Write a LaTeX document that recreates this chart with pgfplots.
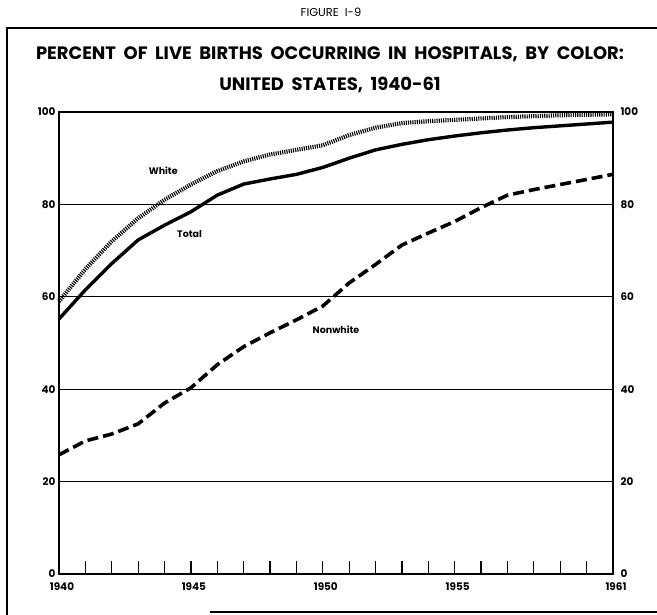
\documentclass[border=0pt]{standalone}
\usepackage{pgfplots}
\pgfplotsset{compat=1.18}
\usepackage{fontspec}
\setmainfont{Poppins}
\begin{document}
\begin{tikzpicture}[x=1bp,y=1bp]
\path[use as bounding box] (0,0) rectangle (657,615);
% outer frame
\draw[line width=1.3bp] (7,0) -- (7,587) -- (657,587);
\draw[line width=1.3bp] (210,3) -- (657,3);
\node[font=\fontsize{11.5}{12}\selectfont] at (331,603) {FIGURE\ \ I-9};
\node[font=\fontsize{18}{31}\selectfont\bfseries, align=center] at (330,545)
  {PERCENT\ \ OF\ \ LIVE\ \ BIRTHS\ \ OCCURRING\ \ IN\ \ HOSPITALS,\ \ BY\ \ COLOR:\\UNITED\ \ STATES,\ \ 1940-61};
\begin{axis}[
  at={(59bp,41bp)}, anchor=south west,
  scale only axis, width=554bp, height=462bp,
  xmin=1940, xmax=1961, ymin=0, ymax=100,
  axis line style={line width=1.3bp},
  xtick={1940,1945,1950,1955,1961},
  minor xtick={1941,...,1960},
  xticklabels={1940,1945,1950,1955,1961},
  x tick label style={/pgf/number format/1000 sep={}},
  xtick pos=bottom, tick align=inside,
  major tick length=13bp, minor tick length=13bp,
  every tick/.style={line width=1.2bp, black},
  ytick={0,20,40,60,80,100},
  ytick style={draw=none},
  ymajorgrids, grid style={line width=1bp, black},
  ticklabel style={font=\fontsize{10.5}{12}\selectfont\bfseries},
  /pgf/number format/assume math mode=true,
  xticklabel style={yshift=-5bp, xshift=3bp},
  clip=false,
]
\addplot[line width=3.4bp, black] coordinates {
(1940,55.2) (1941,61.5) (1942,67.2) (1943,72.3) (1944,75.5) (1945,78.4) (1946,82.0)
(1947,84.4) (1948,85.5) (1949,86.5) (1950,88.0) (1951,90.0) (1952,91.8) (1953,93.0)
(1954,94.0) (1955,94.8) (1956,95.5) (1957,96.1) (1958,96.6) (1959,97.0) (1960,97.4) (1961,97.8)};
\addplot[line width=4.2bp, black, dash pattern=on 1.1bp off 1.1bp] coordinates {
(1940,59.0) (1941,66.0) (1942,72.0) (1943,77.0) (1944,81.0) (1945,84.3) (1946,87.2)
(1947,89.3) (1948,90.8) (1949,91.8) (1950,92.8) (1951,95.0) (1952,96.6) (1953,97.6)
(1954,98.0) (1955,98.3) (1956,98.6) (1957,98.9) (1958,99.1) (1959,99.3) (1960,99.4) (1961,99.5)};
\addplot[line width=3.6bp, black, dash pattern=on 11bp off 5bp] coordinates {
(1940,25.8) (1941,28.8) (1942,30.3) (1943,32.5) (1944,37.0) (1945,40.3) (1946,45.3)
(1947,49.2) (1948,52.2) (1949,55.0) (1950,58.0) (1951,63.0) (1952,67.0) (1953,71.2)
(1954,73.8) (1955,76.3) (1956,79.3) (1957,82.0) (1958,83.2) (1959,84.3) (1960,85.4) (1961,86.5)};
\node[font=\fontsize{9.5}{10}\selectfont\bfseries] at (axis cs:1943.95,87.3) {White};
\node[font=\fontsize{9.5}{10}\selectfont\bfseries] at (axis cs:1944.95,73.5) {Total};
\node[font=\fontsize{9.5}{10}\selectfont\bfseries] at (axis cs:1950.5,52.8) {Nonwhite};
\end{axis}
\begin{axis}[
  at={(59bp,41bp)}, anchor=south west,
  scale only axis, width=554bp, height=462bp,
  xmin=1940, xmax=1961, ymin=0, ymax=100,
  axis x line=none, axis y line*=right,
  axis line style={line width=1.3bp},
  ytick={0,20,40,60,80,100},
  ytick style={draw=none},
  ticklabel style={font=\fontsize{10.5}{12}\selectfont\bfseries},
  /pgf/number format/assume math mode=true,
  yticklabel style={xshift=4bp},
]
\addplot[draw=none] coordinates {(1940,0)};
\end{axis}
\end{tikzpicture}
\end{document}
